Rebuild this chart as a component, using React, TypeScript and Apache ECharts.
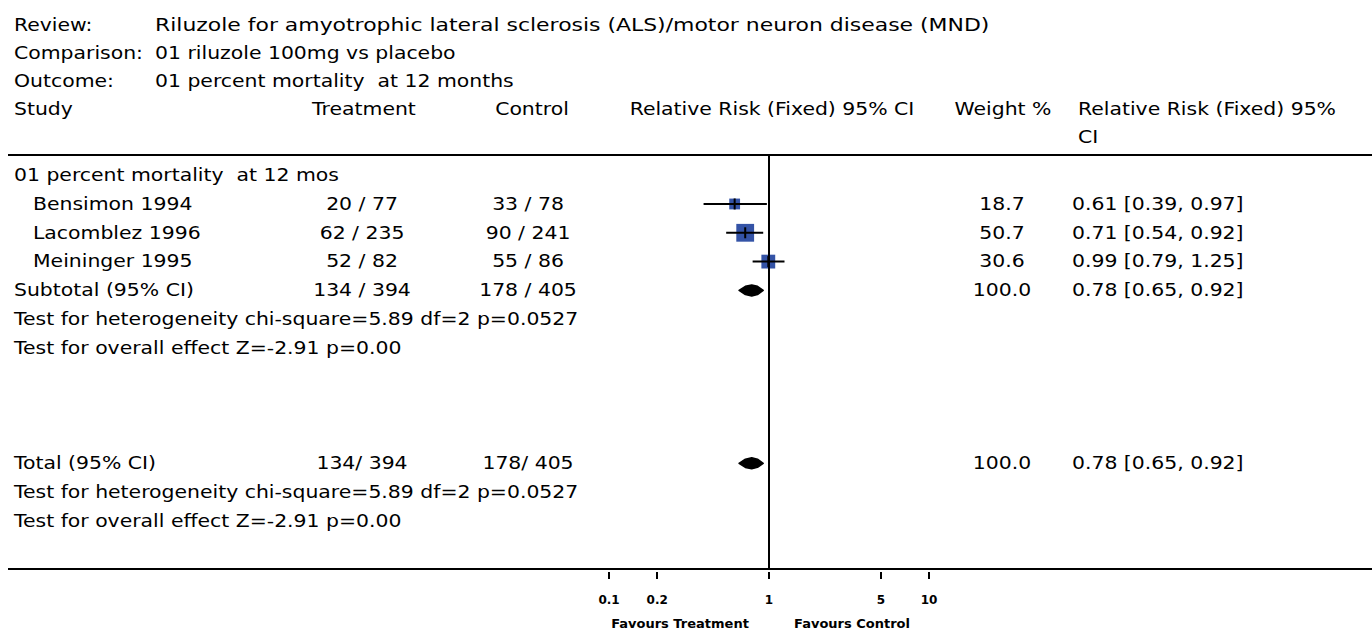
import React, { useEffect, useRef } from "react";
import * as echarts from "echarts";

// ---------- data ----------
const reviewTitle = "Riluzole for amyotrophic lateral sclerosis (ALS)/motor neuron disease (MND)";
const comparisonTitle = "01 riluzole 100mg vs placebo";
const outcomeTitle = "01 percent mortality  at 12 months";
const groupLabel = "01 percent mortality  at 12 mos";

const studyNames = ["Bensimon 1994", "Lacomblez 1996", "Meininger 1995"];
const treatmentEvents = ["20 / 77", "62 / 235", "52 / 82"];
const controlEvents = ["33 / 78", "90 / 241", "55 / 86"];
const studyRR = [0.61, 0.71, 0.99];
const studyLower = [0.39, 0.54, 0.79];
const studyUpper = [0.97, 0.92, 1.25];
const studyWeight = [18.7, 50.7, 30.6];
const studyRows = [1, 2, 3];

const subtotalLabel = "Subtotal (95% CI)";
const subtotalTreatment = "134 / 394";
const subtotalControl = "178 / 405";
const totalLabel = "Total (95% CI)";
const totalTreatment = "134/ 394";
const totalControl = "178/ 405";
const pooledRR = [0.78, 0.78];
const pooledLower = [0.65, 0.65];
const pooledUpper = [0.92, 0.92];
const pooledWeight = [100.0, 100.0];
const pooledRows = [4, 10];

const heterogeneityText = "Test for heterogeneity chi-square=5.89 df=2 p=0.0527";
const overallText = "Test for overall effect Z=-2.91 p=0.00";
const textRows = { group: 0, het1: 5, overall1: 6, het2: 11, overall2: 12 };

const xTicks = [0.1, 0.2, 1, 5, 10];
const favoursLeft = "Favours Treatment";
const favoursRight = "Favours Control";

// ---------- helpers ----------
const FONT = "DejaVu Sans";
const FS = 17;
const SX = 1.2; // horizontal stretch of the wide bitmap-like font
const fmt = (v: number) => v.toFixed(2);
const rrText = (e: number, l: number, u: number) => `${fmt(e)} [${fmt(l)}, ${fmt(u)}]`;

const cols: Record<string, { x: number; align: string }> = {
  label: { x: 14, align: "left" },
  study: { x: 33, align: "left" },
  trt: { x: 362, align: "center" },
  ctl: { x: 528, align: "center" },
  wt: { x: 1002, align: "center" },
  rr: { x: 1072, align: "left" },
};

type Cell = { col: string; text: string };
const tableRows: { row: number; cells: Cell[] }[] = [];
tableRows.push({ row: textRows.group, cells: [{ col: "label", text: groupLabel }] });
studyNames.forEach((n, i) => {
  tableRows.push({
    row: studyRows[i],
    cells: [
      { col: "study", text: n },
      { col: "trt", text: treatmentEvents[i] },
      { col: "ctl", text: controlEvents[i] },
      { col: "wt", text: studyWeight[i].toFixed(1) },
      { col: "rr", text: rrText(studyRR[i], studyLower[i], studyUpper[i]) },
    ],
  });
});
tableRows.push({
  row: pooledRows[0],
  cells: [
    { col: "label", text: subtotalLabel },
    { col: "trt", text: subtotalTreatment },
    { col: "ctl", text: subtotalControl },
    { col: "wt", text: pooledWeight[0].toFixed(1) },
    { col: "rr", text: rrText(pooledRR[0], pooledLower[0], pooledUpper[0]) },
  ],
});
tableRows.push({ row: textRows.het1, cells: [{ col: "label", text: heterogeneityText }] });
tableRows.push({ row: textRows.overall1, cells: [{ col: "label", text: overallText }] });
tableRows.push({
  row: pooledRows[1],
  cells: [
    { col: "label", text: totalLabel },
    { col: "trt", text: totalTreatment },
    { col: "ctl", text: totalControl },
    { col: "wt", text: pooledWeight[1].toFixed(1) },
    { col: "rr", text: rrText(pooledRR[1], pooledLower[1], pooledUpper[1]) },
  ],
});
tableRows.push({ row: textRows.het2, cells: [{ col: "label", text: heterogeneityText }] });
tableRows.push({ row: textRows.overall2, cells: [{ col: "label", text: overallText }] });

const BLUE = "#3453a6";

function headerText(x: number, y: number, text: string, align = "left", sx = SX) {
  return {
    type: "text",
    x,
    y,
    scaleX: sx,
    silent: true,
    style: { text, fill: "#000", fontFamily: FONT, fontSize: FS, align, verticalAlign: "middle" },
  };
}

export default function App() {
  const ref = useRef<HTMLDivElement>(null);
  useEffect(() => {
    if (!ref.current) return;
    const chart = echarts.init(ref.current, undefined, { renderer: "svg" });
    const option: any = {
      animation: false,
      backgroundColor: "#fff",
      grid: { left: 609, width: 320, top: 155, height: 414 },
      xAxis: {
        type: "log",
        logBase: 10,
        min: 0.1,
        max: 10,
        position: "bottom",
        offset: 3,
        axisLine: { show: false, onZero: false },
        splitLine: { show: false },
        minorTick: { show: false },
        axisTick: { show: true, length: 7, lineStyle: { color: "#000", width: 2 }, customValues: xTicks },
        axisLabel: {
          customValues: xTicks,
          formatter: (v: number) => String(+v.toPrecision(3)),
          margin: 22,
          fontFamily: FONT,
          fontSize: 12,
          fontWeight: "bold",
          color: "#000",
        },
      },
      yAxis: { type: "value", min: -0.7, max: 13.67, inverse: true, show: false },
      graphic: [
        headerText(14, 25, "Review:"),
        headerText(155, 25, reviewTitle, "left", 1.29),
        headerText(14, 53, "Comparison:"),
        headerText(155, 53, comparisonTitle),
        headerText(14, 81, "Outcome:"),
        headerText(155, 81, outcomeTitle),
        headerText(14, 109, "Study"),
        headerText(364, 109, "Treatment", "center"),
        headerText(532, 109, "Control", "center"),
        headerText(772, 109, "Relative Risk (Fixed) 95% CI", "center"),
        headerText(1003, 109, "Weight %", "center"),
        headerText(1078, 109, "Relative Risk (Fixed) 95%"),
        headerText(1078, 137, "CI"),
        { type: "line", silent: true, shape: { x1: 8, y1: 155, x2: 1372, y2: 155 }, style: { stroke: "#000", lineWidth: 2 } },
        { type: "line", silent: true, shape: { x1: 8, y1: 569, x2: 1372, y2: 569 }, style: { stroke: "#000", lineWidth: 2 } },
        {
          type: "text", x: 680, y: 623, silent: true,
          style: { text: favoursLeft, fill: "#000", fontFamily: FONT, fontSize: 13, fontWeight: "bold", align: "center", verticalAlign: "middle" },
        },
        {
          type: "text", x: 852, y: 623, silent: true,
          style: { text: favoursRight, fill: "#000", fontFamily: FONT, fontSize: 13, fontWeight: "bold", align: "center", verticalAlign: "middle" },
        },
      ],
      series: [
        {
          type: "custom",
          name: "table",
          silent: true,
          data: tableRows.map((r) => [1, r.row]),
          encode: { x: 0, y: 1 },
          renderItem: (params: any, api: any) => {
            const r = tableRows[params.dataIndex];
            const y = api.coord([1, r.row])[1];
            return {
              type: "group",
              children: r.cells.map((c) => ({
                type: "text",
                x: cols[c.col].x,
                y,
                scaleX: SX,
                style: {
                  text: c.text,
                  fill: "#000",
                  fontFamily: FONT,
                  fontSize: FS,
                  align: cols[c.col].align,
                  verticalAlign: "middle",
                },
              })),
            };
          },
        },
        {
          type: "custom",
          name: "studies",
          silent: true,
          data: studyRR.map((v, i) => [v, studyRows[i], studyLower[i], studyUpper[i], studyWeight[i]]),
          encode: { x: 0, y: 1 },
          renderItem: (params: any, api: any) => {
            const est = api.value(0), row = api.value(1), lo = api.value(2), hi = api.value(3), w = api.value(4);
            const c = api.coord([est, row]);
            const l = api.coord([lo, row]);
            const h = api.coord([hi, row]);
            const s = 2.5 * Math.sqrt(w);
            return {
              type: "group",
              children: [
                { type: "rect", shape: { x: c[0] - s / 2, y: c[1] - s / 2, width: s, height: s }, style: { fill: BLUE } },
                { type: "line", shape: { x1: l[0], y1: l[1], x2: h[0], y2: h[1] }, style: { stroke: "#000", lineWidth: 2 } },
                { type: "line", shape: { x1: c[0], y1: c[1] - 5.5, x2: c[0], y2: c[1] + 5.5 }, style: { stroke: "#000", lineWidth: 2 } },
              ],
            };
          },
        },
        {
          type: "custom",
          name: "pooled",
          silent: true,
          data: pooledRR.map((v, i) => [v, pooledRows[i], pooledLower[i], pooledUpper[i]]),
          encode: { x: 0, y: 1 },
          renderItem: (params: any, api: any) => {
            const est = api.value(0), row = api.value(1), lo = api.value(2), hi = api.value(3);
            const c = api.coord([est, row]);
            const l = api.coord([lo, row]);
            const h = api.coord([hi, row]);
            const hh = 5.5;
            const ml = (l[0] + c[0]) / 2;
            const mr = (h[0] + c[0]) / 2;
            return {
              type: "polygon",
              shape: {
                points: [
                  [l[0], l[1]],
                  [ml, c[1] - hh * 0.75],
                  [c[0], c[1] - hh],
                  [mr, c[1] - hh * 0.75],
                  [h[0], h[1]],
                  [mr, c[1] + hh * 0.75],
                  [c[0], c[1] + hh],
                  [ml, c[1] + hh * 0.75],
                ],
              },
              style: { fill: "#000", stroke: "#000", lineWidth: 1.5, lineJoin: "round" },
            };
          },
          markLine: {
            silent: true,
            symbol: "none",
            label: { show: false },
            lineStyle: { color: "#000", width: 2, type: "solid" },
            data: [{ xAxis: 1 }],
          },
        },
      ],
    };
    chart.setOption(option);
    return () => chart.dispose();
  }, []);
  return (
    <div
      ref={ref}
      style={{ position: "absolute", left: 0, top: 0, width: 1372, height: 633, background: "#fff" }}
    />
  );
}
